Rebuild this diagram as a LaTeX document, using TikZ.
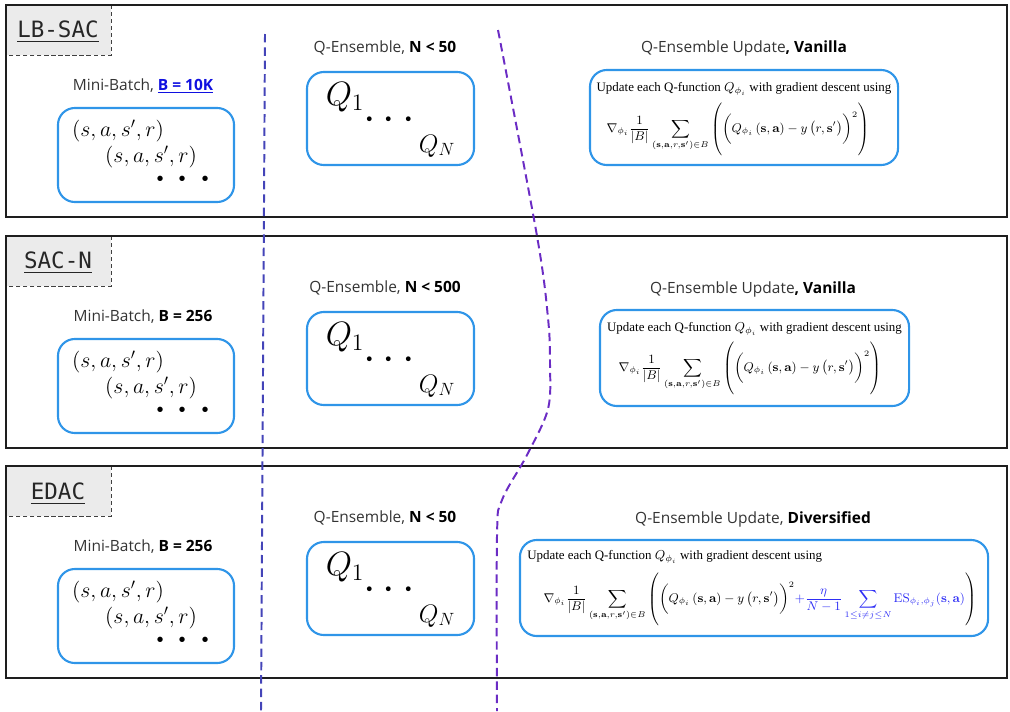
\RequirePackage{fix-cm}
\documentclass[tikz,border=0pt]{standalone}
\usepackage[no-math]{fontspec}
\setmainfont{Open Sans}
\newfontfamily\tagfont{DejaVu Sans Mono}
\newfontfamily\eqfont{Liberation Serif}
\usepackage{amsmath}
\usepackage{amssymb}
\usetikzlibrary{positioning,calc}

\definecolor{boxblue}{HTML}{2F95E8}
\definecolor{framegray}{HTML}{1E1E1E}
\definecolor{tagfill}{HTML}{EBEBEB}
\definecolor{splitA}{HTML}{4444B8}
\definecolor{splitB}{HTML}{6B2CC4}
\definecolor{esblue}{HTML}{2E2EF5}
\definecolor{linkblue}{HTML}{1010E0}

% pieces of the update rule
\newcommand{\qgrad}{\nabla_{\phi_i}\frac{1}{|B|}\sum_{(\mathbf{s},\mathbf{a},r,\mathbf{s}')\in B}}
\newcommand{\qerr}{\biggl(Q_{\phi_i}\left(\mathbf{s},\mathbf{a}\right)-y\left(r,\mathbf{s}'\right)\biggr)^2}
\newcommand{\qdiv}{+\frac{\eta}{N-1}\sum_{1\leq i\neq j\leq N}\mathrm{ES}_{\phi_i,\phi_j}(\mathbf{s},\mathbf{a})}
\newcommand{\qtall}{\rule[-18pt]{0pt}{36pt}}

\tikzset{
  rowframe/.style={draw=framegray, line width=1.6pt},
  tagbox/.style={fill=tagfill},
  tagedge/.style={draw=black!75, line width=0.6pt, dash pattern=on 3pt off 2pt},
  tagtext/.style={font=\tagfont\fontsize{16}{18}\selectfont, text=black!85},
  caption/.style={font=\fontsize{11}{13}\selectfont, text=black!80},
  roundbox/.style={draw=boxblue, line width=1.5pt, rounded corners=12pt},
  tuple/.style={font=\fontsize{15.5}{18}\selectfont, inner sep=0pt},
  bigdots/.style={font=\fontsize{36}{40}\selectfont, inner sep=0pt},
  qbig/.style={font=\fontsize{24}{28}\selectfont, inner sep=0pt},
  qdots/.style={font=\fontsize{32}{36}\selectfont, inner sep=0pt},
  qsmall/.style={font=\fontsize{18}{20}\selectfont, inner sep=0pt},
  eqtext/.style={font=\eqfont\fontsize{9.2}{11}\selectfont, inner sep=0pt},
  eqmath/.style={font=\fontsize{9}{11}\selectfont, inner sep=0pt},
  splitline/.style={line width=1.4pt, dash pattern=on 6pt off 3.5pt},
}

\begin{document}
\begin{tikzpicture}[x=0.025cm, y=-0.025cm]
\useasboundingbox (0,0) rectangle (1010,711);

% rows
\foreach \r/\top in {1/5, 2/236, 3/466}{
  \fill[tagbox] (6,\top) rectangle (111,\top+50);
  \draw[tagedge] (111,\top) -- (111,\top+50) -- (6,\top+50);
  \draw[rowframe] (6,\top) rectangle (1007,\top+212);
}
\node[tagtext] (tag1) at (58,32) {\underline{LB-SAC}};
\node[tagtext] (tag2) at (58,263) {\underline{SAC-N}};
\node[tagtext] (tag3) at (58,494) {\underline{EDAC}};

% mini-batch column
\foreach \r/\dy/\bsz in {1/0/{\textcolor{linkblue}{\underline{\textbf{B = 10K}}}},
                          2/231/{\textcolor{black}{\textbf{B = 256}}}, 3/461/{\textcolor{black}{\textbf{B = 256}}}}{
  \node[caption] (mbcap\r) at (143,86+\dy) {Mini-Batch, \bsz};
  \node[roundbox, minimum width=4.4cm, minimum height=2.35cm] (mb\r) at (146,155+\dy) {};
  \node[tuple] (mbta\r) at (118,131+\dy) {$(s,a,s',r)$};
  \node[tuple] (mbtb\r) at (151,157+\dy) {$(s,a,s',r)$};
  \node[bigdots] (mbd\r) at (187,180+\dy) {$\cdots$};
}

% Q-ensemble column
\foreach \r/\dy/\nsz in {1/0/50, 2/240/500, 3/470/50}{
  \node[caption] (qcap\r) at (385,48+\dy) {Q-Ensemble, \textcolor{black}{\textbf{N < \nsz}}};
  \node[roundbox, minimum width=4.175cm, minimum height=2.325cm] (qe\r) at (390.5,118.5+\dy) {};
  \node[qbig] (qa\r) at (345,97+\dy) {$Q_1$};
  \node[qdots] (qd\r) at (393,120+\dy) {$\cdots$};
  \node[qsmall] (qn\r) at (437,146+\dy) {$Q_N$};
}

% update column
\node[caption] (upcap1) at (744,48) {Q-Ensemble Update\textcolor{black}{\textbf{, Vanilla}}};
\node[roundbox, minimum width=7.7cm, minimum height=2.375cm] (upd1) at (744,117.5) {};
\node[eqtext] (updl1) at (744,89) {Update each Q-function $Q_{\phi_i}$ with gradient descent using};
\node[eqmath] (upde1) at (738,130) {$\displaystyle\qgrad\left(\qtall\qerr\right)$};

\node[caption] (upcap2) at (753,289) {Q-Ensemble Update\textcolor{black}{\textbf{, Vanilla}}};
\node[roundbox, minimum width=7.725cm, minimum height=2.4cm] (upd2) at (754.5,358) {};
\node[eqtext] (updl2) at (754.5,329) {Update each Q-function $Q_{\phi_i}$ with gradient descent using};
\node[eqmath] (upde2) at (750,369) {$\displaystyle\qgrad\left(\qtall\qerr\right)$};

\node[caption] (upcap3) at (753,519) {Q-Ensemble Update, \textcolor{black}{\textbf{Diversified}}};
\node[roundbox, minimum width=11.7cm, minimum height=2.4cm] (upd3) at (754,588) {};
\node[eqtext, anchor=west] (updl3) at (527,557) {Update each Q-function $Q_{\phi_i}$ with gradient descent using};
\node[eqmath] (upde3) at (760,600) {$\displaystyle\qgrad\left(\qtall\qerr\textcolor{esblue}{\qdiv}\right)$};

% split lines
\coordinate (satop) at (265,34);
\coordinate (sabot) at (261,711);
\draw[splitline, draw=splitA] (satop) -- (sabot);
\draw[splitline, draw=splitB] plot[smooth, tension=0.55] coordinates {(498,30) (537,236) (548,318) (550,364) (548,409) (527,455) (502,500) (497,536) (497,711)};
\end{tikzpicture}
\end{document}
